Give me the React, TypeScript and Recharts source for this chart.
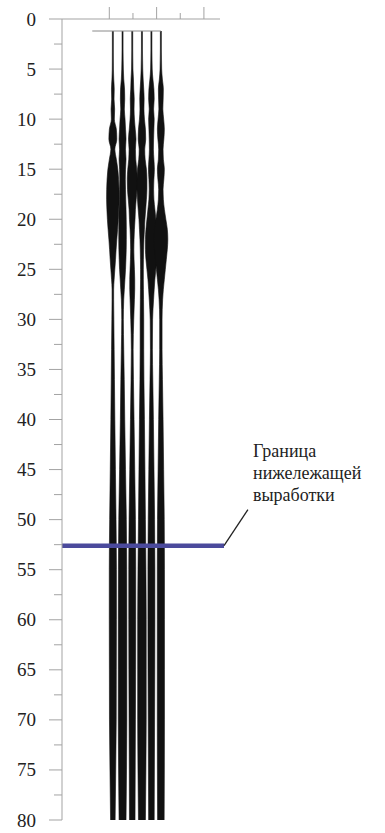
import React from 'react';
import { ComposedChart, Area, XAxis, YAxis, ReferenceLine } from 'recharts';

// depth samples (m) shared by all traces
const depths = [1.2, 3, 5, 6, 7, 8, 9, 10, 11, 12, 13, 14, 15, 16, 17, 18, 19, 20, 21, 22, 23, 24, 25, 26, 27, 28, 30, 33, 36, 40, 45, 50, 55, 60, 65, 70, 75, 80];

// trace positions along the profile
const traceOffsets = [1.15, 1.56, 1.97, 2.38, 2.78, 3.18];

// trace envelopes (half amplitude) at each depth
const trace1 = [0.5, 0.5, 0.6, 0.9, 1.4, 1.2, 1.8, 1.5, 3.5, 4, 2, 3.5, 5, 5.8, 6.2, 6.3, 6, 5.5, 4.8, 4, 3.3, 2.7, 2, 1.3, 0.8, 0.8, 1, 1.3, 1.6, 2, 2.6, 3.2, 3.6, 3.6, 3.5, 3.4, 2.9, 2.3];
const trace2 = [0.5, 0.5, 0.8, 1.2, 2, 2.2, 1.8, 2.5, 3, 3.5, 3, 3.5, 3, 2.8, 3, 3.2, 3.5, 3.7, 3.8, 3.8, 3.7, 3.4, 3, 2.4, 1.8, 1.2, 0.8, 1.2, 1.7, 2.2, 3, 3.8, 4.2, 4.3, 4.3, 4.3, 4, 3.5];
const trace3 = [0.5, 0.5, 0.7, 1.2, 1.5, 2, 1.8, 2.2, 3, 3.8, 3.2, 3.5, 4.5, 5, 4.8, 4, 3.2, 2.8, 2.2, 1.8, 1.6, 1.8, 2.2, 2.5, 2.5, 2.2, 1.5, 0.9, 1.2, 1.8, 2.5, 3.2, 3.5, 3.5, 3.4, 3.2, 3, 2.8];
const trace4 = [0.5, 0.5, 0.8, 1.2, 1.8, 2.2, 2, 2.5, 3.5, 3.8, 2.8, 3.2, 4.5, 5, 5, 4.5, 3.8, 3, 2.5, 2, 1.7, 1.5, 1.4, 1.4, 1.5, 1.6, 1.8, 1.8, 2, 2.5, 3, 3.5, 4, 4.3, 4.3, 4.3, 4, 3.5];
const trace5 = [0.5, 0.5, 0.8, 1.5, 2.5, 2.8, 2.2, 2.8, 2.5, 2.2, 2, 2.5, 3, 2.5, 2.2, 2.5, 3.5, 4.5, 5.5, 6, 6, 5.5, 4.5, 3.5, 2.8, 2.2, 1.2, 1, 1.4, 2, 2.6, 3.2, 3.5, 3.5, 3.4, 3.2, 3, 2.8];
const trace6 = [0.5, 0.5, 0.8, 1.5, 2.5, 2.3, 2, 2.8, 3.5, 3, 2.2, 2.5, 3.5, 3, 2.2, 2.5, 3.5, 5, 6.5, 7, 6.5, 5.5, 4.5, 3.5, 2.5, 1.8, 1.2, 1.2, 1.6, 2.2, 2.8, 3.4, 3.6, 3.6, 3.6, 3.6, 3.5, 3.3];

const traces = [trace1, trace2, trace3, trace4, trace5, trace6];
const GAIN = 0.042;

const depthTicks = [0, 2.5, 5, 7.5, 10, 12.5, 15, 17.5, 20, 22.5, 25, 27.5, 30, 32.5, 35, 37.5, 40, 42.5, 45, 47.5, 50, 52.5, 55, 57.5, 60, 62.5, 65, 67.5, 70, 72.5, 75, 77.5, 80];
const topTicks = [1, 2, 3, 4, 5];

const boundaryDepth = 52.6;
const boundaryLabel = ['Граница', 'нижележащей', 'выработки'];

const data = depths.map((depth, i) => {
  const row: Record<string, any> = { depth };
  traces.forEach((amp, k) => {
    row['t' + k] = [traceOffsets[k] - amp[i] * GAIN, traceOffsets[k] + amp[i] * GAIN];
  });
  return row;
});

const serif = 'Liberation Serif, Times New Roman, DejaVu Serif, serif';
const axisGray = '#a3a3a3';

const DepthTick = ({ x, y, payload }: any) => {
  const major = payload.value % 5 === 0;
  return (
    <g>
      <line x1={x - (major ? 13 : 8)} x2={x} y1={y} y2={y} stroke={axisGray} strokeWidth={1} />
      {major && (
        <text x={x - 26} y={y} dy={6.5} textAnchor="end" fill="#222" style={{ fontFamily: serif, fontSize: 19 }}>
          {payload.value}
        </text>
      )}
    </g>
  );
};

const TopTick = ({ x, y, payload }: any) => {
  const major = payload.value % 2 === 1;
  return <line x1={x} x2={x} y1={y} y2={y - (major ? 12 : 6)} stroke={axisGray} strokeWidth={1} />;
};

const App = () => {
  return (
    <div style={{ position: 'relative', width: 385, height: 833, background: '#fff', fontFamily: serif }}>
      <style>{'body{margin:0}'}</style>
      <ComposedChart
        width={385}
        height={833}
        data={data}
        layout="vertical"
        margin={{ top: 0, right: 165, bottom: 13, left: 0 }}
      >
        <XAxis
          type="number"
          orientation="top"
          domain={[-1, 5.68]}
          allowDataOverflow
          ticks={topTicks}
          interval={0}
          height={19}
          tickSize={0}
          tickMargin={0}
          tickLine={false}
          tick={<TopTick />}
          axisLine={{ stroke: axisGray }}
        />
        <YAxis
          type="number"
          dataKey="depth"
          domain={[0, 80]}
          ticks={depthTicks}
          interval={0}
          width={62}
          tickSize={0}
          tickMargin={0}
          tickLine={false}
          tick={<DepthTick />}
          axisLine={{ stroke: axisGray }}
        />
        {traces.map((_, k) => (
          <Area
            key={k}
            dataKey={'t' + k}
            type="monotone"
            fill="#111"
            fillOpacity={1}
            stroke="#111"
            strokeWidth={0.6}
            isAnimationActive={false}
          />
        ))}
        <ReferenceLine
          segment={[{ x: 0.28, y: 1.2 }, { x: 3.18, y: 1.2 }]}
          stroke="#8a8a8a"
          strokeWidth={1}
        />
        <ReferenceLine
          segment={[{ x: -1, y: boundaryDepth }, { x: 5.85, y: boundaryDepth }]}
          stroke="#4b4a9c"
          strokeWidth={4.5}
          ifOverflow="visible"
        />
        <ReferenceLine
          segment={[{ x: 5.85, y: boundaryDepth }, { x: 6.86, y: 49.0 }]}
          stroke="#222"
          strokeWidth={1.3}
          ifOverflow="visible"
        />
      </ComposedChart>
      <div
        style={{
          position: 'absolute',
          left: 253,
          top: 440,
          fontFamily: serif,
          fontSize: 18,
          lineHeight: '22px',
          color: '#222',
          whiteSpace: 'nowrap',
        }}
      >
        {boundaryLabel.map((line) => (
          <div key={line}>{line}</div>
        ))}
      </div>
    </div>
  );
};

export default App;
